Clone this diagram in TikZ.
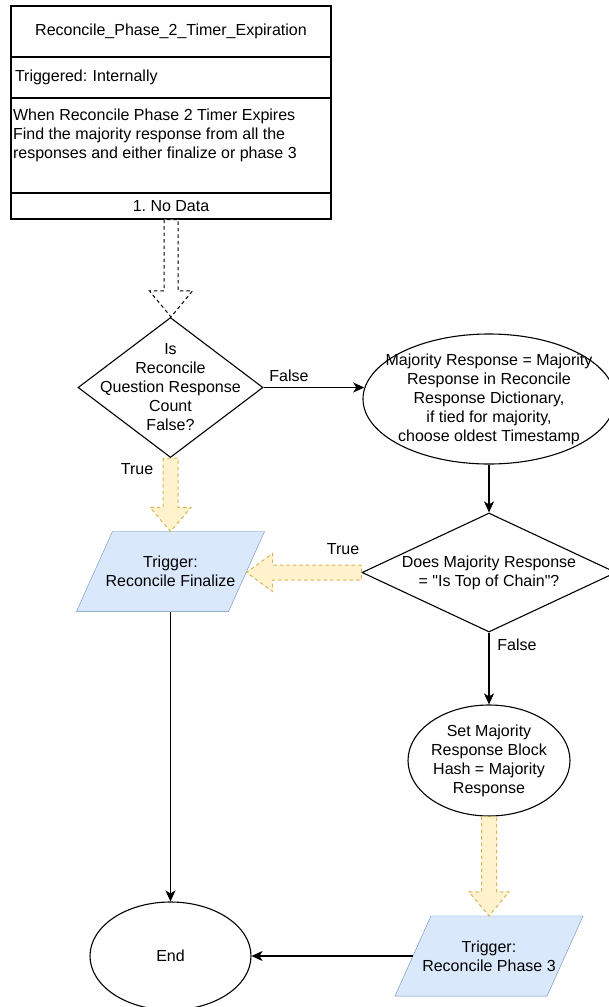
\documentclass[tikz,border=0pt]{standalone}
\usepackage{fontspec}
\setmainfont{Liberation Sans}
\usetikzlibrary{shapes.geometric,arrows.meta,calc,backgrounds}

\definecolor{fatfill}{HTML}{FFF2CC}
\definecolor{fatline}{HTML}{D6B656}
\definecolor{iofill}{HTML}{DAE8FC}
\definecolor{ioline}{HTML}{6C8EBF}

\newcommand{\flowfont}{\fontsize{16pt}{19pt}\selectfont\frenchspacing}

% wide block arrows: style, from, to, shaft half-width, head half-width, head length
\newcommand{\fatdown}[6]{%
  \draw[#1] let \p1=(#2), \p2=(#3) in
    (\x1-#4,\y1) -- (\x1-#4,\y2+#6) -- (\x1-#5,\y2+#6) -- (\x1,\y2)
    -- (\x1+#5,\y2+#6) -- (\x1+#4,\y2+#6) -- (\x1+#4,\y1) -- cycle;}
\newcommand{\fatleft}[6]{%
  \draw[#1] let \p1=(#2), \p2=(#3) in
    (\x1,\y1+#4) -- (\x2+#6,\y1+#4) -- (\x2+#6,\y1+#5) -- (\x2,\y1)
    -- (\x2+#6,\y1-#5) -- (\x2+#6,\y1-#4) -- (\x1,\y1-#4) -- cycle;}

\begin{document}
\frenchspacing
\begin{tikzpicture}[x=1pt, y=-1pt, font=\flowfont, line width=1.1pt,
  box/.style={draw, rectangle, minimum width=320pt, inner sep=0pt},
  dia/.style={draw, diamond, inner sep=0pt},
  ell/.style={draw, ellipse, inner sep=0pt},
  io/.style={rectangle, minimum width=151pt, minimum height=79pt, inner sep=0pt, align=center},
  iobody/.style={draw=ioline, fill=iofill},
  txt/.style={align=center, inner sep=0pt},
  lbl/.style={inner sep=0pt},
  flow/.style={-{Stealth[length=11pt, width=10pt, inset=3pt]}},
  fat/.style={draw=fatline, fill=fatfill, line width=1pt, dash pattern=on 3.5pt off 3pt},
  hollow/.style={draw=black, fill=white, line width=1pt, dash pattern=on 3.5pt off 3pt}]

\useasboundingbox (0,0) rectangle (608,1007);

% event card
\node[box, minimum height=51pt] (hdr) at (171,31.5) {Reconcile\_Phase\_2\_Timer\_Expiration};
\node[box, minimum height=41pt, text width=312pt, inner xsep=4pt, align=left] (trig) at (171,77.5) {Triggered: Internally};
\node[box, minimum height=95pt] (desc) at (171,145.5) {};
\node[txt, anchor=north west, align=left] (desctext) at (12.5,108) {When Reconcile Phase 2 Timer Expires\\Find the majority response from all the\\responses and either finalize or phase 3};
\node[box, minimum height=26pt] (nodata) at (171,206) {1. No Data};

% decisions, steps and terminals
\node[dia, minimum width=185pt, minimum height=140pt,
  label={[txt]center:{Is\\Reconcile\\Question Response\\Count\\False?}}] (d1) at (170.5,387.5) {};
\node[ell, minimum width=252pt, minimum height=130pt,
  label={[txt]center:{Majority Response = Majority\\Response in Reconcile\\Response Dictionary,\\if tied for majority,\\choose oldest Timestamp}}] (e1) at (489,399) {};
\node[dia, minimum width=254pt, minimum height=119pt,
  label={[txt]center:{Does Majority Response\\= \textquotedbl Is Top of Chain\textquotedbl ?}}] (d2) at (489,572.5) {};
\node[io] (p1) at (170.5,571.5) {Trigger:\\Reconcile Finalize};
\node[ell, minimum width=162pt, minimum height=111pt,
  label={[txt]center:{Set Majority\\Response Block\\Hash = Majority\\Response}}] (e2) at (489,760.5) {};
\node[io] (p2) at (489,956) {Trigger:\\Reconcile Phase 3};
\node[ell, minimum width=161pt, minimum height=108pt] (fin) at (170.5,956) {End};

% parallelogram outlines behind the trigger texts
\begin{scope}[on background layer]
  \foreach \n in {p1,p2}
    \draw[iobody] ($(\n.north west)+(18,0)$) -- ($(\n.north east)+(18,0)$)
      -- ($(\n.south east)+(-18,0)$) -- ($(\n.south west)+(-18,0)$) -- cycle;
\end{scope}

% plain connectors
\draw[flow] (d1.east) -- (d1.east -| e1.175);
\draw[flow] (e1.south) -- (d2.north);
\draw[flow] (d2.south) -- (e2.north);
\draw[flow] (p1.south) -- (fin.north);
\draw[flow] (p2.west) -- (fin.east);

% block arrows
\fatdown{hollow}{nodata.south}{d1.north}{7pt}{21.5pt}{26pt}
\fatdown{fat}{d1.south}{p1.north}{7.5pt}{20.5pt}{24pt}
\fatleft{fat}{d2.west}{p1.east}{7.5pt}{19pt}{26pt}
\fatdown{fat}{e2.south}{p2.north}{7.5pt}{20pt}{24pt}

% branch labels
\node[lbl] (lf1) at (289,376) {False};
\node[lbl] (lt1) at (137,469) {True};
\node[lbl] (lt2) at (343,549) {True};
\node[lbl] (lf2) at (517,645) {False};

\end{tikzpicture}
\end{document}
